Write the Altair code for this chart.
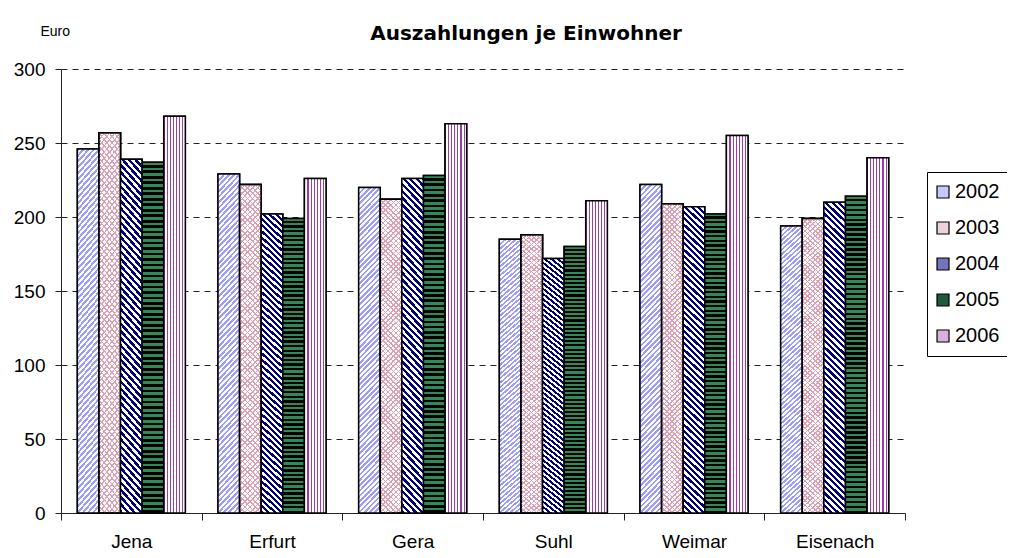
import altair as alt
import pandas as pd

# ---------------- data ----------------
cities = ["Jena", "Erfurt", "Gera", "Suhl", "Weimar", "Eisenach"]
years = ["2002", "2003", "2004", "2005", "2006"]
v2002 = [246, 229, 220, 185, 222, 194]
v2003 = [257, 222, 212, 188, 209, 199]
v2004 = [239, 202, 226, 172, 207, 210]
v2005 = [237, 199, 228, 180, 202, 214]
v2006 = [268, 226, 263, 211, 255, 240]
y_ticks = [0, 50, 100, 150, 200, 250, 300]

series = {"2002": v2002, "2003": v2003, "2004": v2004, "2005": v2005, "2006": v2006}
rows = [{"Stadt": c, "Jahr": y, "Euro": v}
        for y, vals in series.items() for c, v in zip(cities, vals)]
df = pd.DataFrame(rows)

# ---------------- styles ----------------
FONT = "Liberation Sans"
legend_colors = ["#c8c8f8", "#ecd2da", "#7474bc", "#1f5a3c", "#d8b0dc"]


def stripes(segments, n, x1, y1, x2, y2):
    """Striped fill built from a linear gradient with hard stops."""
    stops = []
    period = 1.0 / n
    for k in range(n):
        pos = k * period
        for color, frac in segments:
            end = pos + frac * period
            stops.append(alt.GradientStop(offset=round(pos, 6), color=color))
            stops.append(alt.GradientStop(offset=round(min(end, 1.0), 6), color=color))
            pos = end
    return alt.LinearGradient(gradient="linear", stops=stops, x1=x1, y1=y1, x2=x2, y2=y2)


A = 0.068   # makes the diagonals close to 45 degrees
S = 1.3     # gradient vector longer than the bar
CLEAR = "rgba(255,255,255,0)"
fills = {
    "2002": [stripes([("#9c9cff", 0.5), ("#ffffff", 0.5)], 80, 0, 0, S * A, S)],
    "2003": [stripes([("#dca0b2", 0.3), ("#ffffff", 0.7)], 80, 0, 0, S * A, S),
             stripes([("#dca0b2", 0.3), (CLEAR, 0.7)], 80, 0, 1, S * A, 1 - S)],
    "2004": [stripes([("#00007a", 0.5), ("#ffffff", 0.5)], 64, 0, 1, S * A, 1 - S)],
    "2005": [stripes([("#2e8b57", 0.5), ("#000000", 0.5)], 64, 0, 0, 0, 1)],
    "2006": [stripes([("#9a3da6", 0.35), ("#ffffff", 0.65)], 7, 0, 0, 1, 0)],
}

# ---------------- encodings ----------------
x_enc = alt.X(
    "Stadt:N", sort=cities,
    scale=alt.Scale(paddingInner=0, paddingOuter=0),
    axis=alt.Axis(title=None, labelAngle=0, tickBand="extent", tickSize=7,
                  tickColor="#222222", domainColor="#222222", labelFont=FONT,
                  labelFontSize=19, labelColor="black", labelPadding=12, grid=False),
)
xo_enc = alt.XOffset("Jahr:N", sort=years,
                     scale=alt.Scale(domain=years, paddingInner=0, paddingOuter=0.7565))
y_enc = alt.Y(
    "Euro:Q", scale=alt.Scale(domain=[0, 300], nice=False),
    axis=alt.Axis(values=y_ticks, title="Euro", titleAngle=0, titleAlign="left",
                  titleBaseline="alphabetic", titleX=-21, titleY=-34,
                  titleFont=FONT, titleFontSize=14, titleFontWeight="normal",
                  titleColor="black", labelFont=FONT, labelFontSize=19,
                  labelColor="black", labelPadding=10, tickSize=6,
                  tickColor="#222222", domainColor="#222222",
                  grid=True, gridColor="#222222", gridDash=[6, 5], gridWidth=1),
)

base = alt.Chart(df)

legend_layer = base.mark_bar(stroke="black", strokeWidth=1.5).encode(
    x=x_enc, xOffset=xo_enc, y=y_enc,
    color=alt.Color(
        "Jahr:N",
        scale=alt.Scale(domain=years, range=legend_colors),
        legend=alt.Legend(title=None, orient="none", legendX=866, legendY=103,
                          symbolType="square", symbolSize=144,
                          symbolStrokeColor="black", symbolStrokeWidth=1.2,
                          symbolOffset=-4,
                          labelFont=FONT, labelFontSize=20, labelColor="black",
                          labelOffset=2, rowPadding=16, padding=10,
                          strokeColor="black", fillColor="white"),
    ),
)

layers = [legend_layer]
for yr in years:
    for g in fills[yr]:
        layers.append(
            base.transform_filter(alt.datum.Jahr == yr)
            .mark_bar(fill=g, stroke="black", strokeWidth=1.5)
            .encode(x=x_enc, xOffset=xo_enc, y=y_enc)
        )

chart = alt.layer(*layers).properties(
    width=844, height=444,
    autosize=alt.AutoSizeParams(type="none"),
    padding={"left": 53, "top": 61, "right": 102, "bottom": 37},
    title=alt.TitleParams("Auszahlungen je Einwohner", font="DejaVu Sans", fontSize=20,
                          fontWeight="bold", color="black", anchor="middle",
                          dx=43, dy=30, offset=10),
).configure_view(stroke=None)

chart.save("out.html", embed_options={"renderer": "svg", "actions": False})
